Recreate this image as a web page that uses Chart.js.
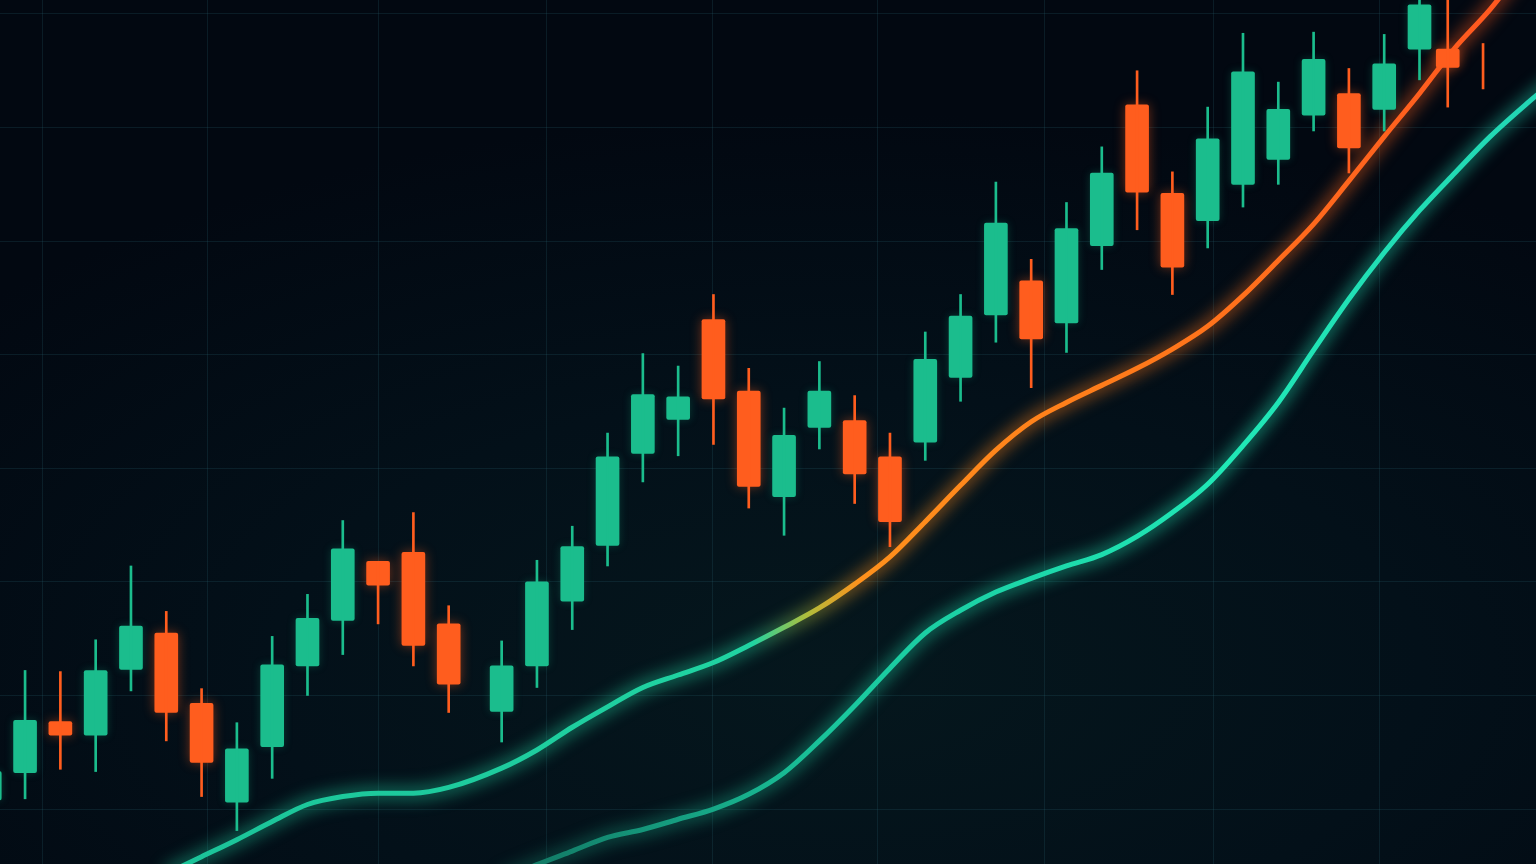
<!DOCTYPE html>
<html>
<head>
<meta charset="utf-8">
<script src="https://cdn.jsdelivr.net/npm/chart.js@4.4.1/dist/chart.umd.min.js"></script>
<style>
  html, body { margin: 0; padding: 0; overflow: hidden; background: #020912; }
  #wrap {
    width: 1536px; height: 864px; position: relative;
    background: radial-gradient(ellipse 75% 65% at 55% 78%, #05171d 0%, #031019 50%, #020811 100%);
  }
</style>
</head>
<body>
<div id="wrap"><canvas id="chart"></canvas></div>
<script>
// session index of each candle (there is a small gap after session 13)
const days = [0, 1, 2, 3, 4, 5, 6, 7, 8, 9, 10, 11, 12, 13,
    14.5, 15.5, 16.5, 17.5, 18.5, 19.5, 20.5, 21.5, 22.5, 23.5, 24.5, 25.5, 26.5, 27.5, 28.5,
    29.5, 30.5, 31.5, 32.5, 33.5, 34.5, 35.5, 36.5, 37.5, 38.5, 39.5, 40.5, 41.3, 42.3];

const opens = [100.8, 103.2, 107.7, 106.5, 112.3, 115.5, 109.3, 100.6, 105.5, 112.6, 116.6, 121.8, 122.6, 116.3,
    108.6, 112.6, 118.3, 123.2, 131.3, 134.3, 143.1, 136.8, 127.5, 133.6, 134.2, 131.0, 132.3, 138.0, 143.5,
    146.5, 142.8, 149.6, 162.0, 154.2, 151.8, 155.0, 157.2, 161.1, 163.0, 161.6, 166.9, 166.9, 165.8];
const highs = [104.3, 112.2, 112.1, 114.9, 121.4, 117.4, 110.6, 107.6, 115.2, 118.9, 125.4, 121.8, 126.1, 117.9,
    114.8, 121.9, 124.9, 133.1, 140.1, 139.0, 145.3, 138.8, 135.3, 139.4, 136.4, 133.1, 142.0, 145.3, 155.2,
    148.4, 153.4, 158.3, 165.0, 156.1, 161.8, 168.3, 164.0, 168.4, 165.2, 168.2, 172.1, 171.7, 167.4];
const lows = [98.9, 100.9, 103.5, 103.3, 110.4, 106.0, 101.1, 98.1, 102.7, 110.0, 113.6, 116.3, 112.6, 108.5,
    105.9, 110.7, 115.8, 121.4, 128.8, 131.1, 132.1, 126.5, 124.1, 131.7, 126.9, 123.1, 130.7, 135.9, 141.1,
    137.1, 140.2, 147.5, 151.0, 145.3, 149.4, 153.0, 155.0, 159.7, 156.0, 159.7, 164.2, 161.8, 163.4];
const closes = [103.3, 107.8, 106.5, 112.2, 116.1, 108.5, 104.1, 105.3, 112.7, 116.8, 122.9, 119.7, 114.4, 111.0,
    112.6, 120.0, 123.1, 131.0, 136.5, 136.3, 136.1, 128.4, 132.9, 136.8, 129.5, 125.3, 139.6, 143.4, 151.6,
    141.4, 151.1, 156.0, 154.3, 147.7, 159.0, 164.9, 161.6, 166.0, 158.2, 165.6, 170.8, 165.3, 165.8];

// fast moving average
const fastDays = [5, 6, 7, 8, 9, 10, 11, 12, 13,
    14.5, 15.5, 16.5, 17.5, 18.5, 19.5, 20.5, 21.5, 22.5, 23.5, 24.5, 25.5, 26.5, 27.5, 28.5,
    29.5, 30.5, 31.5, 32.5, 33.5, 34.5, 35.5, 36.5, 37.5, 38.5, 39.5, 40.5, 41.5, 42.5, 43.5];
const fastMA = [94.3, 95.8, 97.3, 98.9, 100.4, 101.1, 101.4, 101.4, 101.9,
    103.6, 105.2, 107.2, 109.0, 110.7, 111.8, 112.9, 114.4, 116.0, 117.7, 119.8, 122.2, 125.3, 128.5, 131.6,
    134.1, 135.8, 137.3, 138.8, 140.5, 142.5, 145.2, 148.3, 151.5, 155.3, 159.2, 163.0, 167.0, 170.4, 174.4];

// slow moving average
const slowDays = [14.5, 15.5, 16.5, 17.5, 18.5, 19.5, 20.5, 21.5, 22.5, 23.5, 24.5, 25.5, 26.5, 27.5, 28.5,
    29.5, 30.5, 31.5, 32.5, 33.5, 34.5, 35.5, 36.5, 37.5, 38.5, 39.5, 40.5, 41.5, 42.5, 43.5, 44.5];
const slowMA = [93.8, 95.1, 96.3, 97.5, 98.2, 99.1, 100.0, 101.3, 103.2, 106.0, 109.1, 112.4, 115.5, 117.5, 119.1,
    120.3, 121.4, 122.4, 124.0, 126.1, 128.6, 132.0, 135.8, 140.4, 144.9, 149.0, 152.7, 156.0, 159.2, 162.0, 164.6];

// grid lines
const gridX = [1.48, 6.18, 11.0, 15.76, 20.46, 25.16, 29.89, 34.66, 39.38];
const gridY = [100, 110, 120, 130, 140, 150, 160, 170];

const GREEN = "#1bbd8d";
const ORANGE = "#ff5d1e";

// up candles green, down candles (and dojis) orange
const upIdx = [], downIdx = [];
days.forEach((d, i) => (closes[i] > opens[i] ? upIdx : downIdx).push(i));
const wicks = idx => idx.map(i => ({ x: days[i], y: [lows[i], highs[i]] }));
const bodies = idx => idx.filter(i => closes[i] !== opens[i]).map(i => ({ x: days[i], y: [opens[i], closes[i]] }));
const line = (xs, ys) => xs.map((x, i) => ({ x: x, y: ys[i] }));

function fastColor(ctx, alpha) {
    const area = ctx.chart.chartArea;
    if (!area) return "rgba(30,210,160," + alpha + ")";
    const g = ctx.chart.ctx.createLinearGradient(area.left, 0, area.right, 0);
    g.addColorStop(0, `rgba(26,190,150,${alpha})`);
    g.addColorStop(0.49, `rgba(32,212,162,${alpha})`);
    g.addColorStop(0.525, `rgba(175,190,60,${alpha})`);
    g.addColorStop(0.56, `rgba(255,145,28,${alpha})`);
    g.addColorStop(0.75, `rgba(255,120,26,${alpha})`);
    g.addColorStop(1, `rgba(255,84,32,${alpha})`);
    return g;
}

function slowColor(ctx, alpha) {
    const area = ctx.chart.chartArea;
    if (!area) return "rgba(30,220,170," + alpha + ")";
    const g = ctx.chart.ctx.createLinearGradient(area.left, 0, area.right, 0);
    g.addColorStop(0.34, `rgba(18,120,100,${alpha})`);
    g.addColorStop(0.55, `rgba(26,200,158,${alpha})`);
    g.addColorStop(0.8, `rgba(32,232,182,${alpha})`);
    g.addColorStop(1, `rgba(34,214,180,${alpha})`);
    return g;
}

// soft glow: shadow or blur filter per dataset
const glowPlugin = {
    id: "glow",
    beforeDatasetDraw(chart, args) {
        const ds = chart.data.datasets[args.index];
        if (!ds.glow && !ds.blur) return;
        const c = chart.ctx;
        c.save();
        if (ds.glow) { c.shadowColor = ds.glow; c.shadowBlur = ds.glowBlur || 10; }
        if (ds.blur) c.filter = `blur(${ds.blur}px)`;
    },
    afterDatasetDraw(chart, args) {
        const ds = chart.data.datasets[args.index];
        if (ds.glow || ds.blur) chart.ctx.restore();
    }
};

const candleBase = { type: "bar", grouped: false, borderSkipped: false, order: 0 };

new Chart(document.getElementById("chart"), {
    type: "bar",
    data: {
        datasets: [
            { type: "line", data: line(slowDays, slowMA), borderColor: c => slowColor(c, 0.5), borderWidth: 13,
              blur: 8, pointRadius: 0, cubicInterpolationMode: "monotone", order: 3 },
            { type: "line", data: line(slowDays, slowMA), borderColor: c => slowColor(c, 1), borderWidth: 5,
              pointRadius: 0, cubicInterpolationMode: "monotone", order: 2 },
            { type: "line", data: line(fastDays, fastMA), borderColor: c => fastColor(c, 0.5), borderWidth: 13,
              blur: 8, pointRadius: 0, cubicInterpolationMode: "monotone", order: 3 },
            { type: "line", data: line(fastDays, fastMA), borderColor: c => fastColor(c, 1), borderWidth: 5,
              pointRadius: 0, cubicInterpolationMode: "monotone", order: 2 },
            { ...candleBase, data: wicks(upIdx), backgroundColor: GREEN, barThickness: 2 },
            { ...candleBase, data: wicks(downIdx), backgroundColor: ORANGE, barThickness: 2 },
            { ...candleBase, data: bodies(upIdx), backgroundColor: GREEN, barThickness: 23, borderRadius: 2,
              glow: "rgba(27,189,141,0.25)", glowBlur: 8 },
            { ...candleBase, data: bodies(downIdx), backgroundColor: ORANGE, barThickness: 23, borderRadius: 2,
              glow: "rgba(255,93,30,0.45)", glowBlur: 12 }
        ]
    },
    options: {
        responsive: true,
        maintainAspectRatio: false,
        animation: false,
        events: [],
        layout: { padding: 0 },
        plugins: { legend: { display: false }, tooltip: { enabled: false } },
        scales: {
            x: {
                type: "linear", min: 0.29, max: 43.8, offset: false,
                grid: { color: "rgba(40,100,112,0.22)", lineWidth: 1, drawTicks: false, offset: false },
                border: { display: false },
                ticks: { display: false },
                afterBuildTicks: s => { s.ticks = gridX.map(v => ({ value: v })); }
            },
            y: {
                type: "linear", min: 95.16, max: 171.23, beginAtZero: false,
                grid: { color: "rgba(40,100,112,0.22)", lineWidth: 1, drawTicks: false },
                border: { display: false },
                ticks: { display: false },
                afterBuildTicks: s => { s.ticks = gridY.map(v => ({ value: v })); }
            }
        }
    },
    plugins: [glowPlugin]
});
</script>
</body>
</html>
